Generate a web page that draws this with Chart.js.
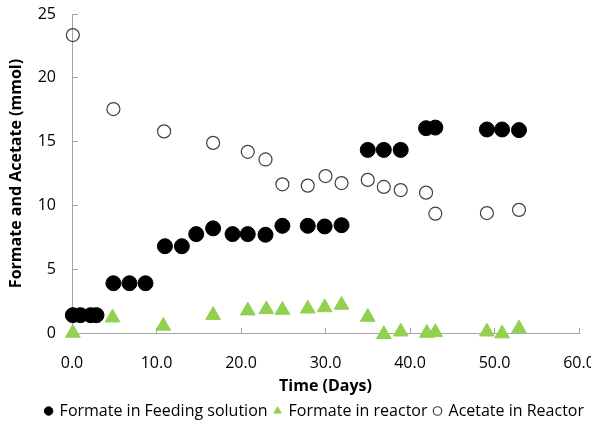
<!DOCTYPE html>
<html>
<head>
<meta charset="utf-8">
<script src="https://cdn.jsdelivr.net/npm/chart.js@4.4.1/dist/chart.umd.min.js"></script>
<style>
  html, body { margin: 0; padding: 0; background: #fff; overflow: hidden; }
  #wrap { width: 591px; height: 425px; }
</style>
</head>
<body>
<div id="wrap"><canvas id="chart" width="591" height="425"></canvas></div>
<script>
// days and mmol
const feedDays = [0.1, 1.0, 2.2, 2.9, 4.9, 6.8, 8.7, 11.0, 13.0, 14.7, 16.7, 19.0, 20.8, 22.9, 24.9, 27.9, 29.9, 31.9, 35.0, 36.9, 38.9, 41.9, 43.0, 49.1, 50.9, 52.9];
const feedFormate = [1.4, 1.4, 1.4, 1.4, 3.9, 3.9, 3.9, 6.8, 6.8, 7.75, 8.2, 7.75, 7.75, 7.7, 8.4, 8.4, 8.35, 8.45, 14.35, 14.35, 14.35, 16.05, 16.1, 15.95, 15.95, 15.9];

const reactorDays = [0.1, 4.8, 10.8, 16.7, 20.8, 23.0, 24.9, 27.9, 29.9, 31.9, 35.0, 36.9, 38.9, 42.0, 43.0, 49.1, 50.9, 52.9];
const reactorFormate = [0.0, 1.2, 0.55, 1.4, 1.75, 1.85, 1.8, 1.9, 2.0, 2.2, 1.25, -0.1, 0.1, 0.0, 0.05, 0.1, -0.05, 0.35];

const acetateDays = [0.1, 4.9, 10.9, 16.7, 20.8, 22.9, 24.9, 27.9, 30.0, 31.9, 35.0, 36.9, 38.9, 41.9, 43.0, 49.1, 52.9];
const acetate = [23.35, 17.55, 15.8, 14.9, 14.2, 13.6, 11.65, 11.55, 12.3, 11.75, 12.0, 11.45, 11.2, 11.0, 9.35, 9.4, 9.65];

const seriesNames = ['Formate in Feeding solution', 'Formate in reactor', 'Acetate in Reactor'];
const xTicks = [0, 10, 20, 30, 40, 50, 60];
const yTicks = [0, 5, 10, 15, 20, 25];

function toPoints(xs, ys) {
    return xs.map((x, i) => ({ x: x, y: ys[i] }));
}

const axisColor = '#a6a6a6';
const fontFamily = '"Open Sans", "Noto Sans", sans-serif';

const ctx = document.getElementById('chart').getContext('2d');
new Chart(ctx, {
    type: 'scatter',
    data: {
        datasets: [
            {
                label: seriesNames[0],
                data: toPoints(feedDays, feedFormate),
                pointStyle: 'circle',
                pointRadius: 7.5,
                pointBackgroundColor: '#000',
                pointBorderColor: '#000',
                backgroundColor: '#000',
                borderColor: '#000',
                borderWidth: 1,
                clip: false
            },
            {
                label: seriesNames[1],
                data: toPoints(reactorDays, reactorFormate),
                pointStyle: 'triangle',
                pointRadius: 8.5,
                pointBackgroundColor: '#92D050',
                pointBorderColor: '#92D050',
                backgroundColor: '#92D050',
                borderColor: '#92D050',
                borderWidth: 1,
                clip: false
            },
            {
                label: seriesNames[2],
                data: toPoints(acetateDays, acetate),
                pointStyle: 'circle',
                pointRadius: 6.5,
                pointBackgroundColor: 'rgba(255,255,255,0)',
                pointBorderColor: '#404040',
                backgroundColor: 'rgba(255,255,255,0)',
                borderColor: '#404040',
                borderWidth: 1.2,
                clip: false
            }
        ]
    },
    options: {
        responsive: false,
        animation: false,
        layout: { padding: { left: 0, right: 0, top: 0, bottom: -4 } },
        plugins: {
            tooltip: { enabled: false },
            legend: {
                position: 'bottom',
                align: 'end',
                labels: {
                    usePointStyle: true,
                    boxWidth: 6,
                    boxHeight: 6,
                    padding: 7,
                    color: '#000',
                    font: { family: fontFamily, size: 16 }
                }
            }
        },
        scales: {
            x: {
                type: 'linear',
                min: 0,
                max: 60,
                afterBuildTicks: (scale) => { scale.ticks = xTicks.map(v => ({ value: v })); },
                afterFit: (scale) => {
                    scale.height = 63;
                    scale.paddingLeft = 0;
                    scale.paddingRight = 12;
                },
                border: { display: true, color: axisColor, width: 1 },
                grid: { drawOnChartArea: false, drawTicks: true, tickLength: -5, tickColor: axisColor },
                ticks: {
                    padding: 26,
                    maxRotation: 0,
                    color: '#000',
                    font: { family: fontFamily, size: 16 },
                    callback: (v) => Number(v).toFixed(1)
                },
                title: {
                    display: true,
                    text: 'Time (Days)',
                    color: '#000',
                    font: { family: fontFamily, size: 16, weight: 'bold' },
                    padding: { top: 0, bottom: 0 }
                }
            },
            y: {
                type: 'linear',
                min: 0,
                max: 25,
                afterBuildTicks: (scale) => { scale.ticks = yTicks.map(v => ({ value: v })); },
                afterFit: (scale) => {
                    scale.width = 72;
                    scale.paddingTop = 14;
                    scale.paddingBottom = 0;
                },
                border: { display: true, color: axisColor, width: 1 },
                grid: { drawOnChartArea: false, drawTicks: true, tickLength: -6, tickColor: axisColor },
                ticks: {
                    padding: 22,
                    color: '#000',
                    font: { family: fontFamily, size: 16 }
                },
                title: {
                    display: true,
                    text: 'Formate and Acetate (mmol)',
                    color: '#000',
                    font: { family: fontFamily, size: 16, weight: 'bold' },
                    padding: { top: 7, bottom: 0 }
                }
            }
        }
    }
});
</script>
</body>
</html>
